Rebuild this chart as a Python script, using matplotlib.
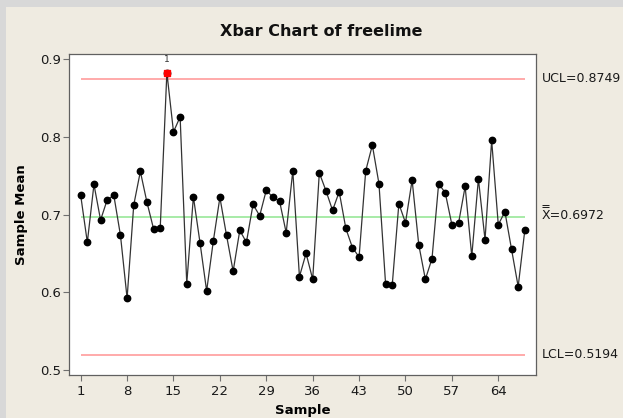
import matplotlib
matplotlib.use("Agg")
import matplotlib.pyplot as plt
from matplotlib.patches import Rectangle
from matplotlib.transforms import offset_copy

# ---- data ----
means = [0.7248, 0.6644, 0.7389, 0.6931, 0.7192, 0.7248, 0.6734, 0.5924, 0.7123, 0.7556,
         0.7158, 0.6815, 0.6832, 0.8829, 0.8066, 0.8259, 0.6112, 0.7231, 0.6639, 0.6018,
         0.6656, 0.7222, 0.6734, 0.6271, 0.6798, 0.6644, 0.7132, 0.6986, 0.7316, 0.7222,
         0.7175, 0.6768, 0.7565, 0.6202, 0.6502, 0.6168, 0.7539, 0.7308, 0.7055, 0.7295,
         0.6823, 0.6575, 0.6455, 0.7565, 0.7895, 0.7398, 0.6104, 0.6095, 0.7141, 0.6896,
         0.7445, 0.6614, 0.6168, 0.6434, 0.7398, 0.7282, 0.6871, 0.6888, 0.7363, 0.6464,
         0.7462, 0.6678, 0.7955, 0.6871, 0.7038, 0.6554, 0.6074, 0.6798]
samples = list(range(1, len(means) + 1))
ucl = 0.8749
center = 0.6972
lcl = 0.5194
flagged = [14]          # samples failing test 1
flag_label = "1"
x_ticks = [1, 8, 15, 22, 29, 36, 43, 50, 57, 64]
y_ticks = [0.5, 0.6, 0.7, 0.8, 0.9]

plt.rcParams['font.family'] = ['DejaVu Sans']

W, H = 623, 418
fig = plt.figure(figsize=(W / 100, H / 100), dpi=100)
fig.patch.set_facecolor('#EFEBE1')
# gray frame strips (left and top)
fig.patches.append(Rectangle((0, 0), 6 / W, 1, transform=fig.transFigure,
                             facecolor='#D8D8D8', edgecolor='none', zorder=0))
fig.patches.append(Rectangle((0, 1 - 7 / H), 1, 7 / H, transform=fig.transFigure,
                             facecolor='#D8D8D8', edgecolor='none', zorder=0))

ax_h = 321.5
ax = fig.add_axes([69 / W, (H - 375) / H, 467 / W, ax_h / H])
ax.set_facecolor('white')

ax.plot(samples, means, color='#333333', lw=0.9, marker='o', ms=4.6,
        mfc='black', mec='black', zorder=3)
fx = list(flagged)
fy = [means[s - 1] for s in flagged]
ax.plot(fx, fy, ls='none', marker='s', ms=4.6, mfc='#FF0000', mec='#FF0000', zorder=4)
for s, v in zip(fx, fy):
    ax.annotate(flag_label, (s, v), xytext=(0, 6), textcoords='offset points',
                ha='center', va='bottom', fontsize=6.5, color='#333333')

first, last = samples[0], samples[-1]
ax.hlines([ucl, lcl], first, last, colors='#FF9C9C', lw=1.2, zorder=2)
ax.hlines([center], first, last, colors='#98E898', lw=1.2, zorder=2)

ax.set_xlim(-0.765, 69.69)
ax.set_ylim(0.4936, 0.9075)
ax.set_xticks(x_ticks)
ax.set_xticklabels([str(t) for t in x_ticks])
ax.set_yticks(y_ticks)
ax.set_yticklabels([f"{t:.1f}" for t in y_ticks])
ax.tick_params(axis='both', direction='out', length=4, width=0.8, color='#707070',
               labelsize=9.5, labelcolor='#1a1a1a')
ax.tick_params(axis='x', pad=3)
ax.tick_params(axis='y', pad=1.5)
for sp in ax.spines.values():
    sp.set_color('#606060')
    sp.set_linewidth(0.9)

ax.set_xlabel('Sample', fontsize=9.5, fontweight='bold', va='center')
ax.xaxis.set_label_coords(0.5, -(410.5 - 375) / ax_h)
ax.set_ylabel('Sample Mean', fontsize=9.5, fontweight='bold', va='center')
ax.yaxis.set_label_coords(-(69 - 22) / 467, 0.5)

fig.text(321 / W, 1 - 31 / H, 'Xbar Chart of freelime', ha='center', va='center',
         fontsize=11.5, fontweight='bold', color='#111111')

trans = ax.get_yaxis_transform()
lab_x = 1 + (541.5 - 536) / 467
ax.text(lab_x, ucl, f"UCL={ucl:.4f}", transform=trans, ha='left', va='center',
        fontsize=9, color='#1a1a1a', clip_on=False)
t_c = offset_copy(trans, fig=fig, x=0, y=1.0, units='points')
ax.text(lab_x, center, f"X={center:.4f}", transform=t_c,
        ha='left', va='center', fontsize=9, color='#1a1a1a', clip_on=False)
# double bar above the X of the centre-line label
for up_px in (12.0, 10.0):
    t = offset_copy(trans, fig=fig, x=0, y=up_px * 0.72, units='points')
    ax.plot([lab_x + 0.3 / 467, lab_x + 7.5 / 467], [center, center], transform=t,
            color='#1a1a1a', lw=0.7, clip_on=False, solid_capstyle='butt')
ax.text(lab_x, lcl, f"LCL={lcl:.4f}", transform=trans, ha='left', va='center',
        fontsize=9, color='#1a1a1a', clip_on=False)

fig.savefig('out.png', dpi=100, facecolor=fig.get_facecolor())
